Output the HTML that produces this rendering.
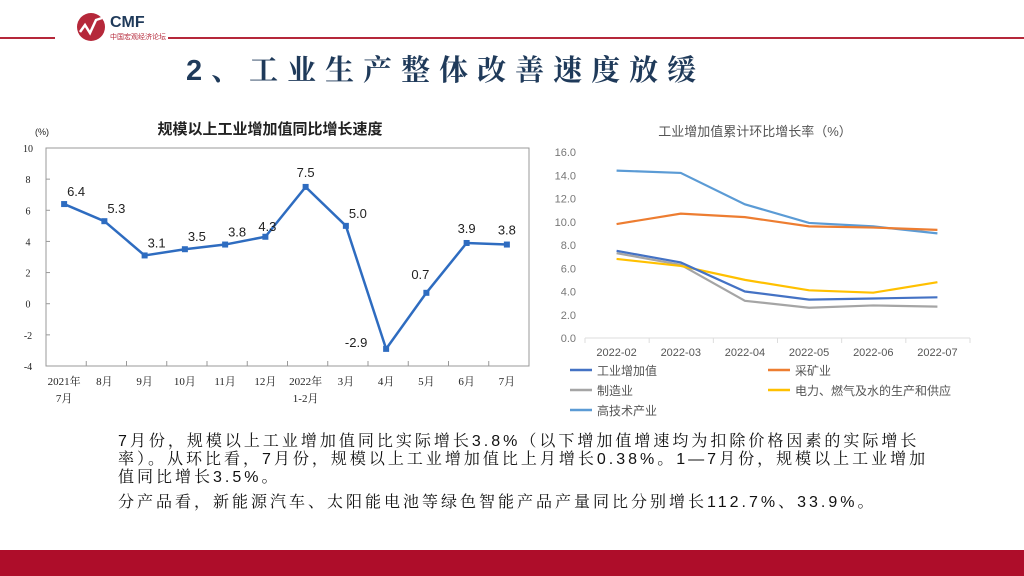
<!DOCTYPE html>
<html><head><meta charset="utf-8"><style>
body{margin:0;width:1024px;height:576px;overflow:hidden;background:#fff;font-family:"Liberation Sans","Noto Sans CJK SC",sans-serif;position:relative}
.abs{position:absolute}
.para{position:absolute;left:118px;white-space:nowrap;font-size:16px;line-height:18px;color:#111;font-family:"Liberation Sans","Noto Serif CJK SC",serif;letter-spacing:3px}
</style></head><body>
<div class="abs" style="left:0;top:37px;width:55px;height:2px;background:#b5283a"></div>
<div class="abs" style="left:168px;top:37px;width:856px;height:2px;background:#b5283a"></div>
<svg class="abs" style="left:74px;top:10px" width="100" height="34">
<circle cx="17" cy="17" r="14" fill="#b5283a"/>
<polyline points="6,22 11,15 16,23 22,10 28,8" fill="none" stroke="#fff" stroke-width="2.5"/>
<text x="36" y="17" font-size="16" font-weight="bold" fill="#1f3a5a" font-family="Liberation Sans">CMF</text>
<text x="36" y="29" font-size="7" fill="#b5283a" font-family="Noto Sans CJK SC">中国宏观经济论坛</text>
</svg>
<div class="abs" style="left:186px;top:48px;font-size:29px;color:#1f3a5a;letter-spacing:9px;font-family:'Liberation Sans','Noto Serif CJK SC',serif;font-weight:bold">2、工业生产整体改善速度放缓</div>

<svg class="abs" id="left" style="left:0;top:110px" width="540" height="300"></svg>
<svg class="abs" id="right" style="left:540px;top:120px" width="440" height="300"></svg>

<div class="para" style="top:433px">7月份，规模以上工业增加值同比实际增长3.8%（以下增加值增速均为扣除价格因素的实际增长<br>率）。从环比看，7月份，规模以上工业增加值比上月增长0.38%。1—7月份，规模以上工业增加<br>值同比增长3.5%。</div>
<div class="para" style="top:494px">分产品看，新能源汽车、太阳能电池等绿色智能产品产量同比分别增长112.7%、33.9%。</div>
<div class="abs" style="left:0;top:550px;width:1024px;height:26px;background:#ae0d2a"></div>

<script>
const NS="http://www.w3.org/2000/svg";
function mk(p,t,a,txt){const e=document.createElementNS(NS,t);for(const k in a)e.setAttribute(k,a[k]);if(txt!==undefined)e.textContent=txt;p.appendChild(e);return e;}
// Left chart data
const leftCats=["2021年|7月","8月","9月","10月","11月","12月","2022年|1-2月","3月","4月","5月","6月","7月"];
const leftVals=[6.4,5.3,3.1,3.5,3.8,4.3,7.5,5.0,-2.9,0.7,3.9,3.8];
const leftTicks=[10,8,6,4,2,0,-2,-4];
// Right chart data
const rightCats=["2022-02","2022-03","2022-04","2022-05","2022-06","2022-07"];
const rIndustry=[7.5,6.5,4.0,3.3,3.4,3.5];
const rMining=[9.8,10.7,10.4,9.6,9.5,9.3];
const rManuf=[7.3,6.3,3.2,2.6,2.8,2.7];
const rPower=[6.8,6.2,5.0,4.1,3.9,4.8];
const rHitech=[14.4,14.2,11.5,9.9,9.6,9.0];
const rightTicks=[0,2,4,6,8,10,12,14,16];

// Left
(function(){
const s=document.getElementById('left');
const L=46,R=529,T=38,B=256;
const y=v=>T+(10-v)*(B-T)/14;
const step=(R-L)/12;
const x=i=>L+step*(i+0.5)-2;
let e=mk(s,'text',{x:270,y:24,'text-anchor':'middle','font-size':15,'font-weight':'bold',fill:'#222'},'规模以上工业增加值同比增长速度');

e=mk(s,'text',{x:42,y:25,'text-anchor':'middle','font-size':9,fill:'#222'},'(%)');

e=mk(s,'rect',{x:L,y:T,width:R-L,height:B-T,fill:'none',stroke:'#999','stroke-width':1});

leftTicks.forEach(t=>{e=mk(s,'text',{x:28,y:y(t)+4,'text-anchor':'middle','font-size':10,fill:'#222','font-family':'Liberation Serif'},t);

mk(s,'line',{x1:L,x2:L+4,y1:y(t),y2:y(t),stroke:'#999'});});
leftCats.forEach((c,i)=>{const p=c.split('|');
if(i>0)mk(s,'line',{x1:L+step*i,x2:L+step*i,y1:B,y2:B-5,stroke:'#999'});
p.forEach((q,j)=>{e=mk(s,'text',{x:x(i),y:B+19+j*17,'text-anchor':'middle','font-size':11,fill:'#222','font-family':'Liberation Serif, Noto Serif CJK SC, serif'},q);
});});
e=mk(s,'polyline',{points:leftVals.map((v,i)=>x(i)+','+y(v)).join(' '),fill:'none',stroke:'#2e6cc0','stroke-width':2.5});

leftVals.forEach((v,i)=>{e=mk(s,'rect',{x:x(i)-3,y:y(v)-3,width:6,height:6,fill:'#2e6cc0'});

let lx=x(i)+12,ly=y(v)-8;
if(v<0){lx=x(i)-30;ly=y(v)-2;}
if(i===6||i===10||i===11){lx=x(i);ly=y(v)-10;}
if(i===9){lx=x(i)-6;ly=y(v)-14;}
if(i===5){lx=x(i)+2;ly=y(v)-6;}
e=mk(s,'text',{x:lx,y:ly,'text-anchor':'middle','font-size':13,fill:'#222'},v.toFixed(1));
});
})();

// Right
(function(){
const s=document.getElementById('right');
const L=45,R=430,T=32,B=218;
const y=v=>B-v*(B-T)/16;
const step=(R-L)/6;
const x=i=>L+step*(i+0.5)-0.5;
let e=mk(s,'text',{x:215,y:16,'text-anchor':'middle','font-size':13,fill:'#555'},'工业增加值累计环比增长率（%）');

rightTicks.forEach(t=>{e=mk(s,'text',{x:36,y:y(t)+4,'text-anchor':'end','font-size':11,fill:'#777'},t.toFixed(1));
});
mk(s,'line',{x1:L,x2:R,y1:B,y2:B,stroke:'#ddd'});
for(let i=0;i<=6;i++)mk(s,'line',{x1:L+step*i,x2:L+step*i,y1:B,y2:B+5,stroke:'#ddd'});
rightCats.forEach((c,i)=>{e=mk(s,'text',{x:x(i),y:B+18,'text-anchor':'middle','font-size':11,fill:'#555'},c);
});
const series=[[rHitech,'#5b9bd5','hitech-line'],[rMining,'#ed7d31','mining-line'],[rManuf,'#a5a5a5','manufacturing-line'],[rPower,'#ffc000','power-line'],[rIndustry,'#4472c4','industry-line']];
series.forEach(([d,c,n])=>{e=mk(s,'polyline',{points:d.map((v,i)=>x(i)+','+y(v)).join(' '),fill:'none',stroke:c,'stroke-width':2.2});
});
const leg=[['工业增加值','#4472c4',30,250],['采矿业','#ed7d31',228,250],['制造业','#a5a5a5',30,270],['电力、燃气及水的生产和供应','#ffc000',228,270],['高技术产业','#5b9bd5',30,290]];
leg.forEach(([t,c,lx,ly])=>{const g=mk(s,'g',{});

mk(g,'line',{x1:lx,x2:lx+22,y1:ly,y2:ly,stroke:c,'stroke-width':2.5});
mk(g,'text',{x:lx+27,y:ly+5,'font-size':12,fill:'#555'},t);});
})();
</script>
</body></html>
